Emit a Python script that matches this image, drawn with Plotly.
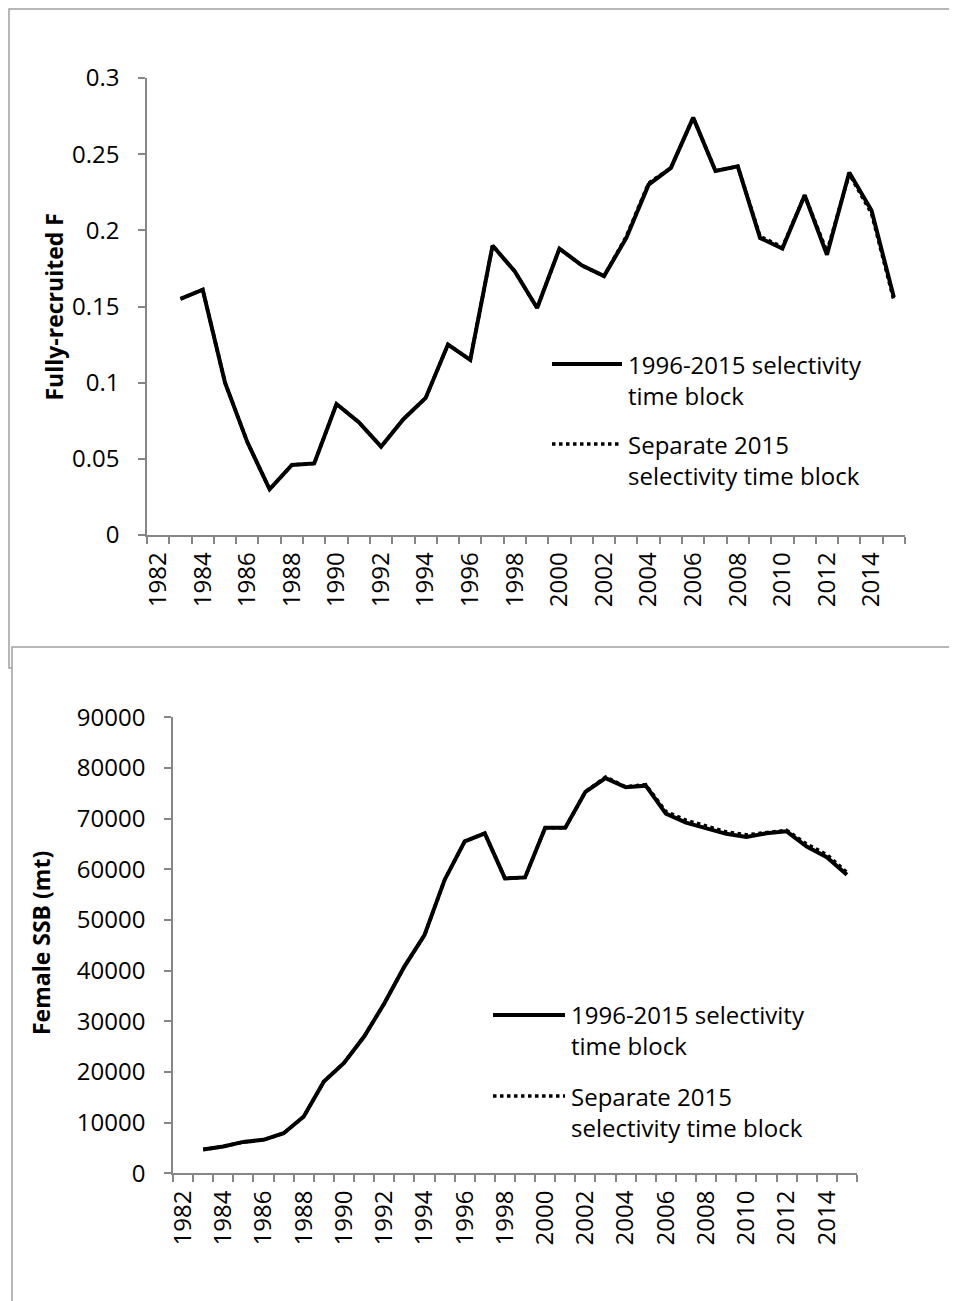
import plotly.graph_objects as go

# ---------------- data ----------------
years = list(range(1983, 2016))

f_block_1996_2015 = [0.155, 0.161, 0.100, 0.061, 0.030, 0.046, 0.047, 0.086, 0.074, 0.058,
                     0.076, 0.090, 0.125, 0.115, 0.190, 0.173, 0.149, 0.188, 0.177, 0.170,
                     0.195, 0.230, 0.241, 0.274, 0.239, 0.242, 0.195, 0.188, 0.223, 0.184,
                     0.238, 0.213, 0.156]
f_sep_2015 = [0.155, 0.161, 0.100, 0.061, 0.030, 0.046, 0.047, 0.086, 0.074, 0.058,
              0.076, 0.090, 0.125, 0.115, 0.190, 0.173, 0.149, 0.188, 0.177, 0.170,
              0.196, 0.231, 0.241, 0.274, 0.239, 0.242, 0.196, 0.189, 0.223, 0.186,
              0.237, 0.211, 0.154]

ssb_block_1996_2015 = [4700, 5300, 6200, 6600, 7900, 11200, 18100, 21800, 27000, 33500,
                       40800, 47000, 57900, 65500, 67100, 58200, 58400, 68200, 68200, 75300,
                       78000, 76200, 76500, 71000, 69200, 68100, 67000, 66400, 67100, 67500,
                       64500, 62400, 58900]
ssb_sep_2015 = [4700, 5300, 6200, 6600, 7900, 11200, 18100, 21800, 27000, 33500,
                40800, 47000, 57900, 65500, 67100, 58200, 58400, 68200, 68200, 75300,
                78200, 76300, 76700, 71400, 69700, 68500, 67400, 66800, 67300, 67700,
                65000, 62900, 59400]

x_tick_years = list(range(1982, 2015, 2))
x_tick_text = [str(y) for y in x_tick_years]
f_ticks = [0, 0.05, 0.1, 0.15, 0.2, 0.25, 0.3]
f_tick_text = ["0", "0.05", "0.1", "0.15", "0.2", "0.25", "0.3"]
ssb_ticks = list(range(0, 90001, 10000))
ssb_tick_text = [str(v) for v in ssb_ticks]

series_names = ["1996-2015 selectivity<br>time block", "Separate 2015<br>selectivity time block"]

# ---------------- geometry ----------------
W, H = 957, 1301
OFF = 8  # page body margin
def px(x):
    return (x - OFF) / W
def py(y):
    return 1 - (y - OFF) / H

FONT = "Open Sans"
AX = "#868686"

fig = go.Figure()

fig.add_trace(go.Scatter(x=years, y=f_block_1996_2015, mode="lines",
                         line=dict(color="black", width=4), xaxis="x", yaxis="y",
                         showlegend=False, name="1996-2015 selectivity time block"))
fig.add_trace(go.Scatter(x=years, y=f_sep_2015, mode="lines",
                         line=dict(color="black", width=3.5, dash="dot"), xaxis="x", yaxis="y",
                         showlegend=False, name="Separate 2015 selectivity time block"))
fig.add_trace(go.Scatter(x=years, y=ssb_block_1996_2015, mode="lines",
                         line=dict(color="black", width=4), xaxis="x2", yaxis="y2",
                         showlegend=False, name="1996-2015 selectivity time block"))
fig.add_trace(go.Scatter(x=years, y=ssb_sep_2015, mode="lines",
                         line=dict(color="black", width=3.5, dash="dot"), xaxis="x2", yaxis="y2",
                         showlegend=False, name="Separate 2015 selectivity time block"))

def xaxis_cfg(domain, anchor):
    return dict(domain=domain, anchor=anchor, range=[1981.5, 2015.5], automargin=False,
                tickmode="array", tickvals=x_tick_years, ticktext=x_tick_text,
                ticks="", tickangle=-90, ticklabelstandoff=6,
                tickfont=dict(family=FONT, size=24, color="black"),
                showline=True, linecolor=AX, linewidth=1.5, showgrid=False, zeroline=False,
                minor=dict(tickmode="linear", tick0=1981.5, dtick=1, ticks="outside",
                           ticklen=7, tickcolor=AX, tickwidth=1.5, showgrid=False))

def yaxis_cfg(domain, anchor, rng, tv, tt):
    return dict(domain=domain, anchor=anchor, range=rng, automargin=False,
                tickmode="array", tickvals=tv, ticktext=tt,
                ticks="outside", ticklen=7, tickcolor=AX, tickwidth=1.5,
                ticklabelstandoff=14,
                tickfont=dict(family=FONT, size=24, color="black"),
                showline=True, linecolor=AX, linewidth=1.5, showgrid=False, zeroline=False)

fig.update_layout(
    template="none",
    width=W, height=H,
    margin=dict(l=0, r=0, t=0, b=0, autoexpand=False),
    paper_bgcolor="white", plot_bgcolor="rgba(0,0,0,0)",
    showlegend=False,
    xaxis=xaxis_cfg([px(147), px(905)], "y"),
    yaxis=yaxis_cfg([py(535), py(78)], "x", [0, 0.3], f_ticks, f_tick_text),
    xaxis2=xaxis_cfg([px(173), px(857)], "y2"),
    yaxis2=yaxis_cfg([py(1173.3), py(717.3)], "x2", [0, 90000], ssb_ticks, ssb_tick_text),
)

# chart frames
BORDER = "#a0a0a0"
fig.add_shape(type="rect", xref="paper", yref="paper",
              x0=px(9), x1=px(975), y0=py(668), y1=py(9),
              line=dict(color=BORDER, width=1.5), fillcolor="rgba(0,0,0,0)", layer="below")
fig.add_shape(type="rect", xref="paper", yref="paper",
              x0=px(12), x1=px(975), y0=py(1320), y1=py(647),
              line=dict(color=BORDER, width=1.5), fillcolor="white", layer="below")

# axis titles
fig.add_annotation(text="<b>Fully-recruited F</b>", xref="paper", yref="paper",
                   x=px(53), y=py(307.5), xanchor="center", yanchor="middle",
                   textangle=-90, showarrow=False,
                   font=dict(family=FONT, size=23, color="black"))
fig.add_annotation(text="<b>Female SSB (mt)</b>", xref="paper", yref="paper",
                   x=px(41), y=py(943), xanchor="center", yanchor="middle",
                   textangle=-90, showarrow=False,
                   font=dict(family=FONT, size=23, color="black"))

# legends (one per chart)
legends = [
    dict(x0=552, x1=622, ys=[364, 444], tx=626, ty=[379.5, 459.5]),
    dict(x0=493, x1=565, ys=[1015, 1096], tx=569, ty=[1030.5, 1112]),
]
styles = [dict(color="black", width=4), dict(color="black", width=3.5, dash="dot")]
for lg in legends:
    for i in range(2):
        fig.add_shape(type="line", xref="paper", yref="paper",
                      x0=px(lg["x0"]), x1=px(lg["x1"]), y0=py(lg["ys"][i]), y1=py(lg["ys"][i]),
                      line=styles[i])
        fig.add_annotation(text=series_names[i], xref="paper", yref="paper",
                           x=px(lg["tx"]), y=py(lg["ty"][i]), xanchor="left", yanchor="middle",
                           align="left", showarrow=False,
                           font=dict(family=FONT, size=24, color="black"))

fig.write_html("out.html")
